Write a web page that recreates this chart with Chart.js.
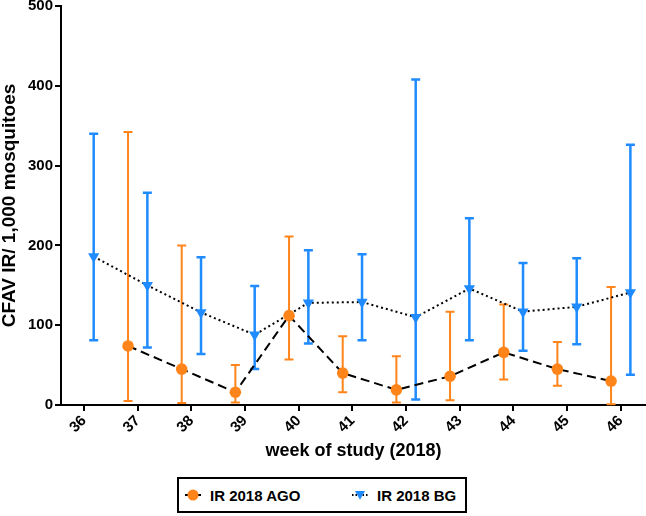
<!DOCTYPE html>
<html>
<head>
<meta charset="utf-8">
<script src="https://cdn.jsdelivr.net/npm/chart.js@4"></script>
<style>
  body { margin: 0; background: #fff; font-family: Arial, "Liberation Sans", sans-serif; }
  #wrap { position: relative; width: 646px; height: 516px; }
  #box { position: absolute; left: 0; top: 0; width: 646px; height: 470px; }
  #legend { position: absolute; left: 177px; top: 477px; width: 290px; height: 36px;
            border: 2px solid #000; box-sizing: border-box; }
  .item { position: absolute; top: 0; height: 32px; display: flex; align-items: center;
          font-weight: bold; font-size: 15px; color: #000; }
  .item svg { margin-right: 9px; }
</style>
</head>
<body>
<div id="wrap">
  <div id="box"><canvas id="c"></canvas></div>
  <div id="legend">
    <div class="item" style="left:6px">
      <svg width="16" height="14"><line x1="0" y1="7" x2="16" y2="7" stroke="#000" stroke-width="2" stroke-dasharray="4,2"/><circle cx="8" cy="7" r="5.5" fill="#FF851B"/></svg>IR 2018 AGO
    </div>
    <div class="item" style="left:173px">
      <svg width="16" height="14"><line x1="0" y1="7" x2="16" y2="7" stroke="#000" stroke-width="2" stroke-dasharray="1.5,2"/><polygon points="3,3 13,3 8,11.7" fill="#1F8BFF"/></svg>IR 2018 BG
    </div>
  </div>
</div>
<script>
// CFAV infection rate per 1,000 mosquitoes, by week of study (2018)
const weeks   = [36, 37, 38, 39, 40, 41, 42, 43, 44, 45, 46];

const agoIR   = [null, 74, 45, 16, 112, 40, 19, 36, 66, 45, 30];
const agoLow  = [null, 5, 2.5, 3, 57, 16, 3, 6, 32, 24, 1];
const agoHigh = [null, 342, 200, 50, 211, 86, 61, 117, 126, 79, 148];

const bgIR    = [186, 150, 116, 88, 128, 129, 110, 146, 117, 123, 141];
const bgLow   = [81, 72, 64, 45, 77, 81, 7, 81, 68, 76, 38];
const bgHigh  = [340, 266, 185, 149, 194, 189, 408, 234, 178, 184, 326];

const yTicks  = [0, 100, 200, 300, 400, 500];

const ORANGE = '#FF851B';
const BLUE   = '#1F8BFF';
const FONT   = 'Arial, "Liberation Sans", Helvetica, sans-serif';

// build {x,y} points, nudging each group sideways so the bars don't overlap
function series(vals, lo, hi, shift) {
  const pts = [], l = [], h = [];
  weeks.forEach((w, i) => {
    if (vals[i] == null) return;
    pts.push({ x: w + shift, y: vals[i] });
    l.push(lo[i]); h.push(hi[i]);
  });
  return { pts, l, h };
}
const ago = series(agoIR, agoLow, agoHigh, -0.18);
const bg  = series(bgIR, bgLow, bgHigh, 0.18);

const errorBars = {
  id: 'errorBars',
  beforeDatasetsDraw(chart) {
    const { ctx, scales: { x, y } } = chart;
    chart.data.datasets.forEach(ds => {
      ctx.save();
      ctx.strokeStyle = ds.errColor;
      ctx.lineWidth = ds.errWidth;
      ds.data.forEach((p, i) => {
        const px = x.getPixelForValue(p.x);
        const top = y.getPixelForValue(ds.errHigh[i]);
        const bot = y.getPixelForValue(ds.errLow[i]);
        ctx.beginPath();
        ctx.moveTo(px, top); ctx.lineTo(px, bot);
        ctx.moveTo(px - 4.5, top); ctx.lineTo(px + 4.5, top);
        ctx.moveTo(px - 4.5, bot); ctx.lineTo(px + 4.5, bot);
        ctx.stroke();
      });
      ctx.restore();
    });
  }
};

new Chart(document.getElementById('c'), {
  type: 'line',
  data: {
    datasets: [
      {
        label: 'IR 2018 AGO', data: ago.pts, errLow: ago.l, errHigh: ago.h,
        errColor: ORANGE, errWidth: 2,
        borderColor: '#000', borderWidth: 2, borderDash: [9, 5],
        pointStyle: 'circle', pointRadius: 5.8, pointBorderWidth: 0,
        pointBackgroundColor: ORANGE, pointBorderColor: ORANGE,
      },
      {
        label: 'IR 2018 BG', data: bg.pts, errLow: bg.l, errHigh: bg.h,
        errColor: BLUE, errWidth: 2.5,
        borderColor: '#000', borderWidth: 2, borderDash: [2, 3],
        pointStyle: 'triangle', pointRotation: 180, pointRadius: 6.5, pointBorderWidth: 0,
        pointBackgroundColor: BLUE, pointBorderColor: BLUE,
      },
    ],
  },
  options: {
    responsive: true, maintainAspectRatio: false, animation: false,
    layout: { autoPadding: false, padding: { top: 6, right: 0, bottom: 0, left: 0 } },
    plugins: { legend: { display: false }, tooltip: { enabled: false } },
    scales: {
      x: {
        type: 'linear', min: 35.571, max: 46.471,
        afterBuildTicks: (s) => { s.ticks = weeks.map(v => ({ value: v })); },
        afterFit: (s) => { s.height = 65; s.paddingLeft = 0; s.paddingRight = 0; },
        border: { color: '#000', width: 2 },
        grid: { drawOnChartArea: false, drawTicks: true, tickLength: 6, color: '#000', lineWidth: 2 },
        ticks: { color: '#000', font: { family: FONT, size: 15, weight: 'bold' },
                 minRotation: 45, maxRotation: 45, padding: 1 },
        title: { display: true, text: 'week of study (2018)', color: '#000',
                 font: { family: FONT, size: 18, weight: 'bold', lineHeight: 1 },
                 padding: { top: 0, bottom: 10 } },
      },
      y: {
        min: 0, max: 500,
        afterBuildTicks: (s) => { s.ticks = yTicks.map(v => ({ value: v })); },
        afterFit: (s) => { s.width = 61; s.paddingTop = 0; s.paddingBottom = 0; },
        border: { color: '#000', width: 2 },
        grid: { drawOnChartArea: false, drawTicks: true, tickLength: 6, color: '#000', lineWidth: 2 },
        ticks: { color: '#000', font: { family: FONT, size: 15, weight: 'bold' }, padding: 2 },
        title: { display: true, text: 'CFAV IR/ 1,000 mosquitoes', color: '#000',
                 font: { family: FONT, size: 19, weight: 'bold', lineHeight: 1 },
                 padding: { top: 0, bottom: 0 } },
      },
    },
  },
  plugins: [errorBars],
});
</script>
</body>
</html>
